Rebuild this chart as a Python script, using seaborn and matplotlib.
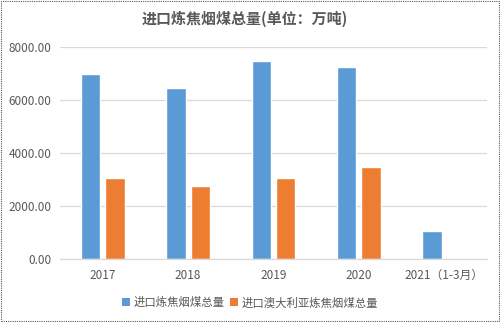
import matplotlib
matplotlib.use("Agg")
import matplotlib.pyplot as plt
import seaborn as sns
import pandas as pd
import numpy as np
from matplotlib.patches import Patch, Rectangle

# Data (unit: 万吨)
years = ["2017", "2018", "2019", "2020", "2021（1-3月）"]
total_import = [7000, 6480, 7470, 7270, 1080]
australia_import = [3080, 2780, 3070, 3500, np.nan]
series_names = ["进口炼焦烟煤总量", "进口澳大利亚炼焦烟煤总量"]
colors = ["#5B9BD5", "#ED7D31"]
yticks = [0, 2000, 4000, 6000, 8000]

df = pd.DataFrame({
    "year": years * 2,
    "value": total_import + australia_import,
    "series": [series_names[0]] * len(years) + [series_names[1]] * len(years),
})

sns.set_theme(style="white")
plt.rcParams["font.family"] = ["Noto Sans CJK SC", "DejaVu Sans"]

text_color = "#595959"
fig = plt.figure(figsize=(5, 3.22), dpi=100)
ax = fig.add_axes([0.12, 0.195, 0.854, 0.658])

sns.barplot(data=df, x="year", y="value", hue="series", hue_order=series_names,
            palette=colors, width=0.57, gap=0.2, saturation=1, ax=ax,
            legend=False, errorbar=None)

ax.set_ylim(0, 8000)
ax.set_yticks(yticks)
ax.set_yticklabels([f"{v:.2f}" for v in yticks])
ax.set_xlim(-0.5, len(years) - 0.5)
ax.yaxis.grid(True, color="#D9D9D9", linewidth=0.9)
ax.set_axisbelow(True)
for side in ["left", "right", "top"]:
    ax.spines[side].set_visible(False)
ax.spines["bottom"].set_color("#D9D9D9")
ax.spines["bottom"].set_linewidth(0.9)
ax.tick_params(axis="both", length=0, labelsize=8.5, labelcolor=text_color)
ax.tick_params(axis="y", pad=6)
ax.tick_params(axis="x", pad=7)
ax.set_xlabel("")
ax.set_ylabel("")

fig.text(0.49, 0.94, "进口炼焦烟煤总量(单位：万吨)", ha="center", va="center",
         fontsize=10.8, fontweight="bold", color=text_color)

handles = [Patch(facecolor=c, edgecolor="none", label=n) for c, n in zip(colors, series_names)]
fig.legend(handles=handles, loc="center", bbox_to_anchor=(0.5, 0.06), ncol=2,
           frameon=False, fontsize=8.2, handlelength=0.7, handleheight=0.7,
           handletextpad=0.3, columnspacing=0.5, labelcolor=text_color)

# dotted frame around the chart
fig.patches.append(Rectangle((0.002, 0.003), 0.995, 0.993, transform=fig.transFigure,
                             fill=False, edgecolor="#555555", linestyle=(0, (1, 1)),
                             linewidth=0.8))

fig.savefig("out.png", dpi=100, facecolor="white")
